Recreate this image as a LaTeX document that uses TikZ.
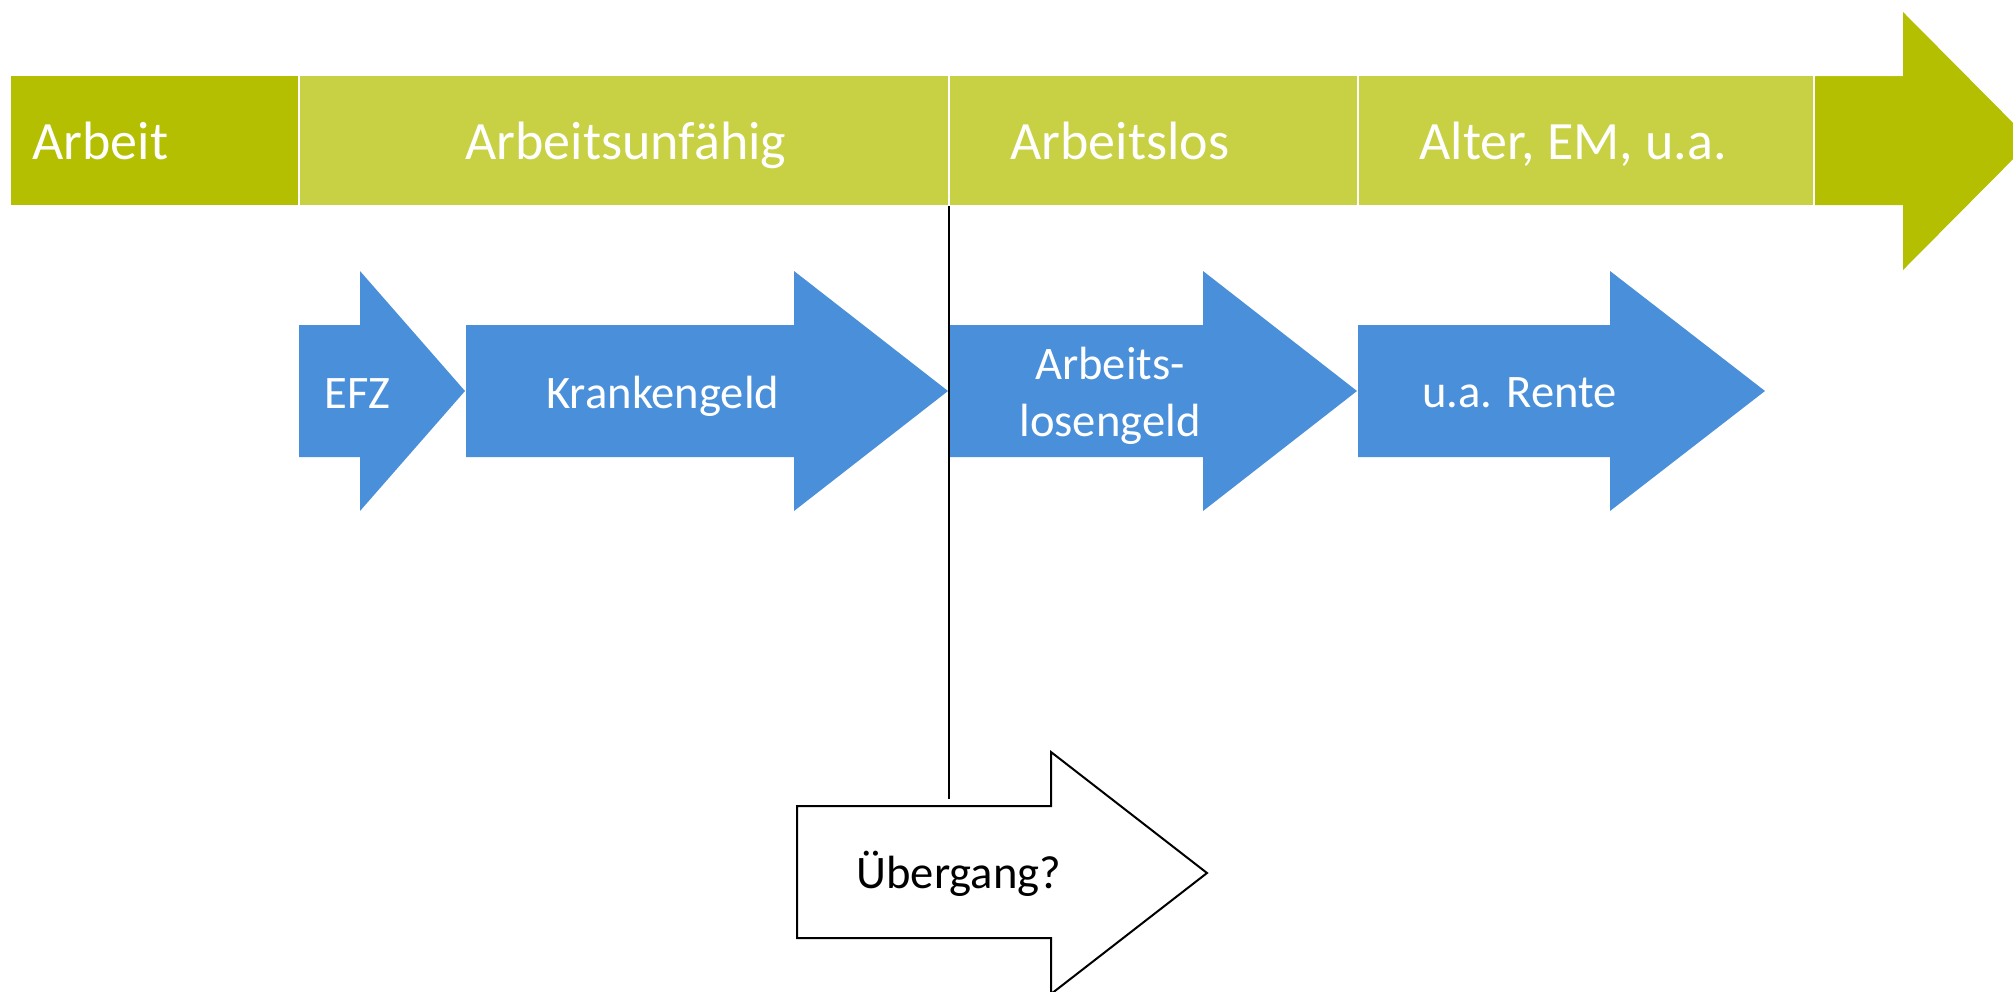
\documentclass[tikz,border=0pt]{standalone}
\usepackage{fontspec}
\setmainfont{Carlito}
\definecolor{darkolive}{HTML}{B3BF00}
\definecolor{lightolive}{HTML}{C8D043}
\definecolor{bluefill}{HTML}{4A8FDA}
\begin{document}
\begin{tikzpicture}[x=0.5pt,y=-0.5pt,
  darkbox/.style={fill=darkolive,draw=white,line width=1pt},
  lightbox/.style={fill=lightolive,draw=white,line width=1pt},
  bluearrow/.style={fill=bluefill},
  toptext/.style={text=white,anchor=base west,inner sep=0pt,font=\fontsize{27}{32}\selectfont},
  bluetext/.style={text=white,anchor=base west,inner sep=0pt,font=\fontsize{23.3}{28}\selectfont},
  outlinearrow/.style={draw=black,fill=white,line width=1pt,line join=miter}]
\useasboundingbox (0,0) rectangle (2013,991);
\clip (0,0) rectangle (2013,991);

% top timeline
\path[darkbox] (10,75) rectangle (299,206);
\path[lightbox] (299,75) rectangle (949,206);
\path[lightbox] (949,75) rectangle (1358,206);
\path[lightbox] (1358,75) rectangle (1814,206);
\path[darkbox] (1814,75) -- (1902,75) -- (1902,11) -- (2032,141) -- (1902,271) -- (1902,206) -- (1814,206) -- cycle;
\fill[darkolive] (1815,76.5) -- (1903,76.5) -- (1903,12) -- (2031,141) -- (1903,270) -- (1903,205) -- (1815,205) -- cycle;

\node[toptext] (arbeit) at (32,159) {Arbeit};
\node[toptext] (unf) at (465,159) {Arbeitsunfähig};
\node[toptext] (alos) at (1010,159) {Arbeitslos};
\node[toptext] (alter) at (1419,159) {Alter, EM, u.a.};

% blue arrows
\fill[bluearrow] (299,325) -- (360,325) -- (360,271) -- (465,391) -- (360,511) -- (360,457) -- (299,457) -- cycle;
\fill[bluearrow] (466,325) -- (794,325) -- (794,271) -- (948,391) -- (794,511) -- (794,457) -- (466,457) -- cycle;
\fill[bluearrow] (950,325) -- (1203,325) -- (1203,271) -- (1357,391) -- (1203,511) -- (1203,457) -- (950,457) -- cycle;
\fill[bluearrow] (1358,325) -- (1610,325) -- (1610,271) -- (1765,391) -- (1610,511) -- (1610,457) -- (1358,457) -- cycle;

\node[bluetext] (efz) at (324,408) {EFZ};
\node[bluetext] (kg) at (546,408) {Krankengeld};
\node[bluetext,anchor=base] (alg1) at (1110,379) {Arbeits-};
\node[bluetext,anchor=base] (alg2) at (1110,436) {losengeld};
\node[bluetext] (rente) at (1422,407) {u.a. Rente};

% transition
\path[outlinearrow] (797,806) -- (1051,806) -- (1051,752) -- (1207,873) -- (1051,994) -- (1051,938) -- (797,938) -- cycle;
\node[anchor=base west,inner sep=0pt,font=\fontsize{23.3}{28}\selectfont] (ueb) at (856,888) {Übergang?};

\coordinate (lineTop) at (949,206);
\coordinate (lineBot) at (949,799);
\draw[line width=1pt] (lineTop) -- (lineBot);
\end{tikzpicture}
\end{document}
